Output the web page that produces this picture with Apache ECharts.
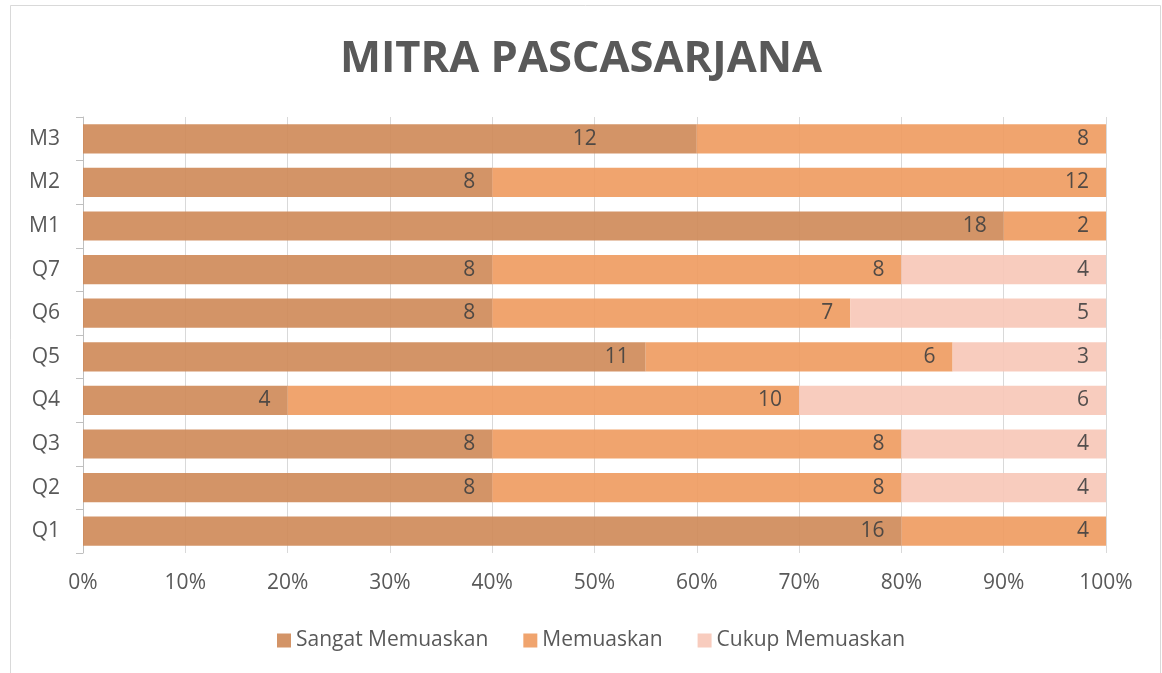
<!DOCTYPE html>
<html>
<head>
<meta charset="utf-8">
<script src="https://cdn.jsdelivr.net/npm/echarts@6/dist/echarts.min.js"></script>
<style>html,body{margin:0;padding:0;background:#fff;}#c{width:1162px;height:673px;}</style>
</head>
<body>
<div id="c"></div>
<script>
var categories = ['Q1','Q2','Q3','Q4','Q5','Q6','Q7','M1','M2','M3'];
var sangatMemuaskan = [16, 8, 8, 4, 11, 8, 8, 18, 8, 12];
var memuaskan       = [4, 8, 8, 10, 6, 7, 8, 2, 12, 8];
var cukupMemuaskan  = [0, 4, 4, 6, 3, 5, 4, 0, 0, 0];
var xTickLabels = ['0%','10%','20%','30%','40%','50%','60%','70%','80%','90%','100%'];
var seriesNames = ['Sangat Memuaskan','Memuaskan','Cukup Memuaskan'];

var raw = [sangatMemuaskan, memuaskan, cukupMemuaskan];
var totals = categories.map(function(_, i){ return raw[0][i] + raw[1][i] + raw[2][i]; });
var colors = ['#CE8857', '#EE9A5E', '#F7C6B7'];
var FONT = '"Open Sans", sans-serif';

var series = raw.map(function(arr, s){
  return {
    name: seriesNames[s],
    type: 'bar',
    stack: 'total',
    barCategoryGap: '33%',
    itemStyle: { color: colors[s], opacity: 0.9 },
    label: {
      show: true,
      position: 'insideRight',
      distance: 17,
      color: '#404040',
      fontSize: 21,
      fontFamily: FONT,
      formatter: function(p){ return p.data.raw ? String(p.data.raw) : ''; }
    },
    emphasis: { disabled: true },
    data: arr.map(function(v, i){
      var d = { value: v / totals[i] * 100, raw: v };
      if (s === 0 && categories[i] === 'M3') d.label = { distance: 100 };
      return d;
    })
  };
});

var chart = echarts.init(document.getElementById('c'), null, { renderer: 'canvas' });
chart.setOption({
  animation: false,
  backgroundColor: '#fff',
  title: {
    text: 'MITRA PASCASARJANA',
    left: 'center',
    top: 33,
    textStyle: { fontFamily: FONT, fontSize: 43.5, fontWeight: 'bold', color: '#595959' }
  },
  graphic: [{
    type: 'rect',
    shape: { x: 10.5, y: 5.5, width: 1150, height: 700 },
    style: { fill: 'none', stroke: '#d9d9d9', lineWidth: 1 },
    silent: true
  }],
  legend: {
    data: seriesNames,
    bottom: 22,
    left: 277,
    icon: 'rect',
    itemWidth: 14,
    itemHeight: 14,
    itemGap: 35,
    padding: 0,
    textStyle: { fontFamily: FONT, fontSize: 21, color: '#595959', padding: [0,0,0,0] }
  },
  grid: { left: 83, right: 56, top: 117, bottom: 120, containLabel: false },
  xAxis: {
    type: 'value',
    min: 0, max: 100, interval: 10,
    axisLine: { show: false },
    axisTick: { show: false },
    splitLine: { show: true, lineStyle: { color: '#d9d9d9', width: 1 } },
    axisLabel: {
      margin: 20,
      fontFamily: FONT, fontSize: 21, color: '#595959',
      formatter: function(v){ return xTickLabels[Math.round(v / 10)]; }
    }
  },
  yAxis: {
    type: 'category',
    data: categories,
    axisLine: { show: true, lineStyle: { color: '#bfbfbf' } },
    axisTick: { show: true, length: 7, lineStyle: { color: '#bfbfbf' } },
    axisLabel: { margin: 23, fontFamily: FONT, fontSize: 21, color: '#595959' }
  },
  series: series
});
</script>
</body>
</html>
